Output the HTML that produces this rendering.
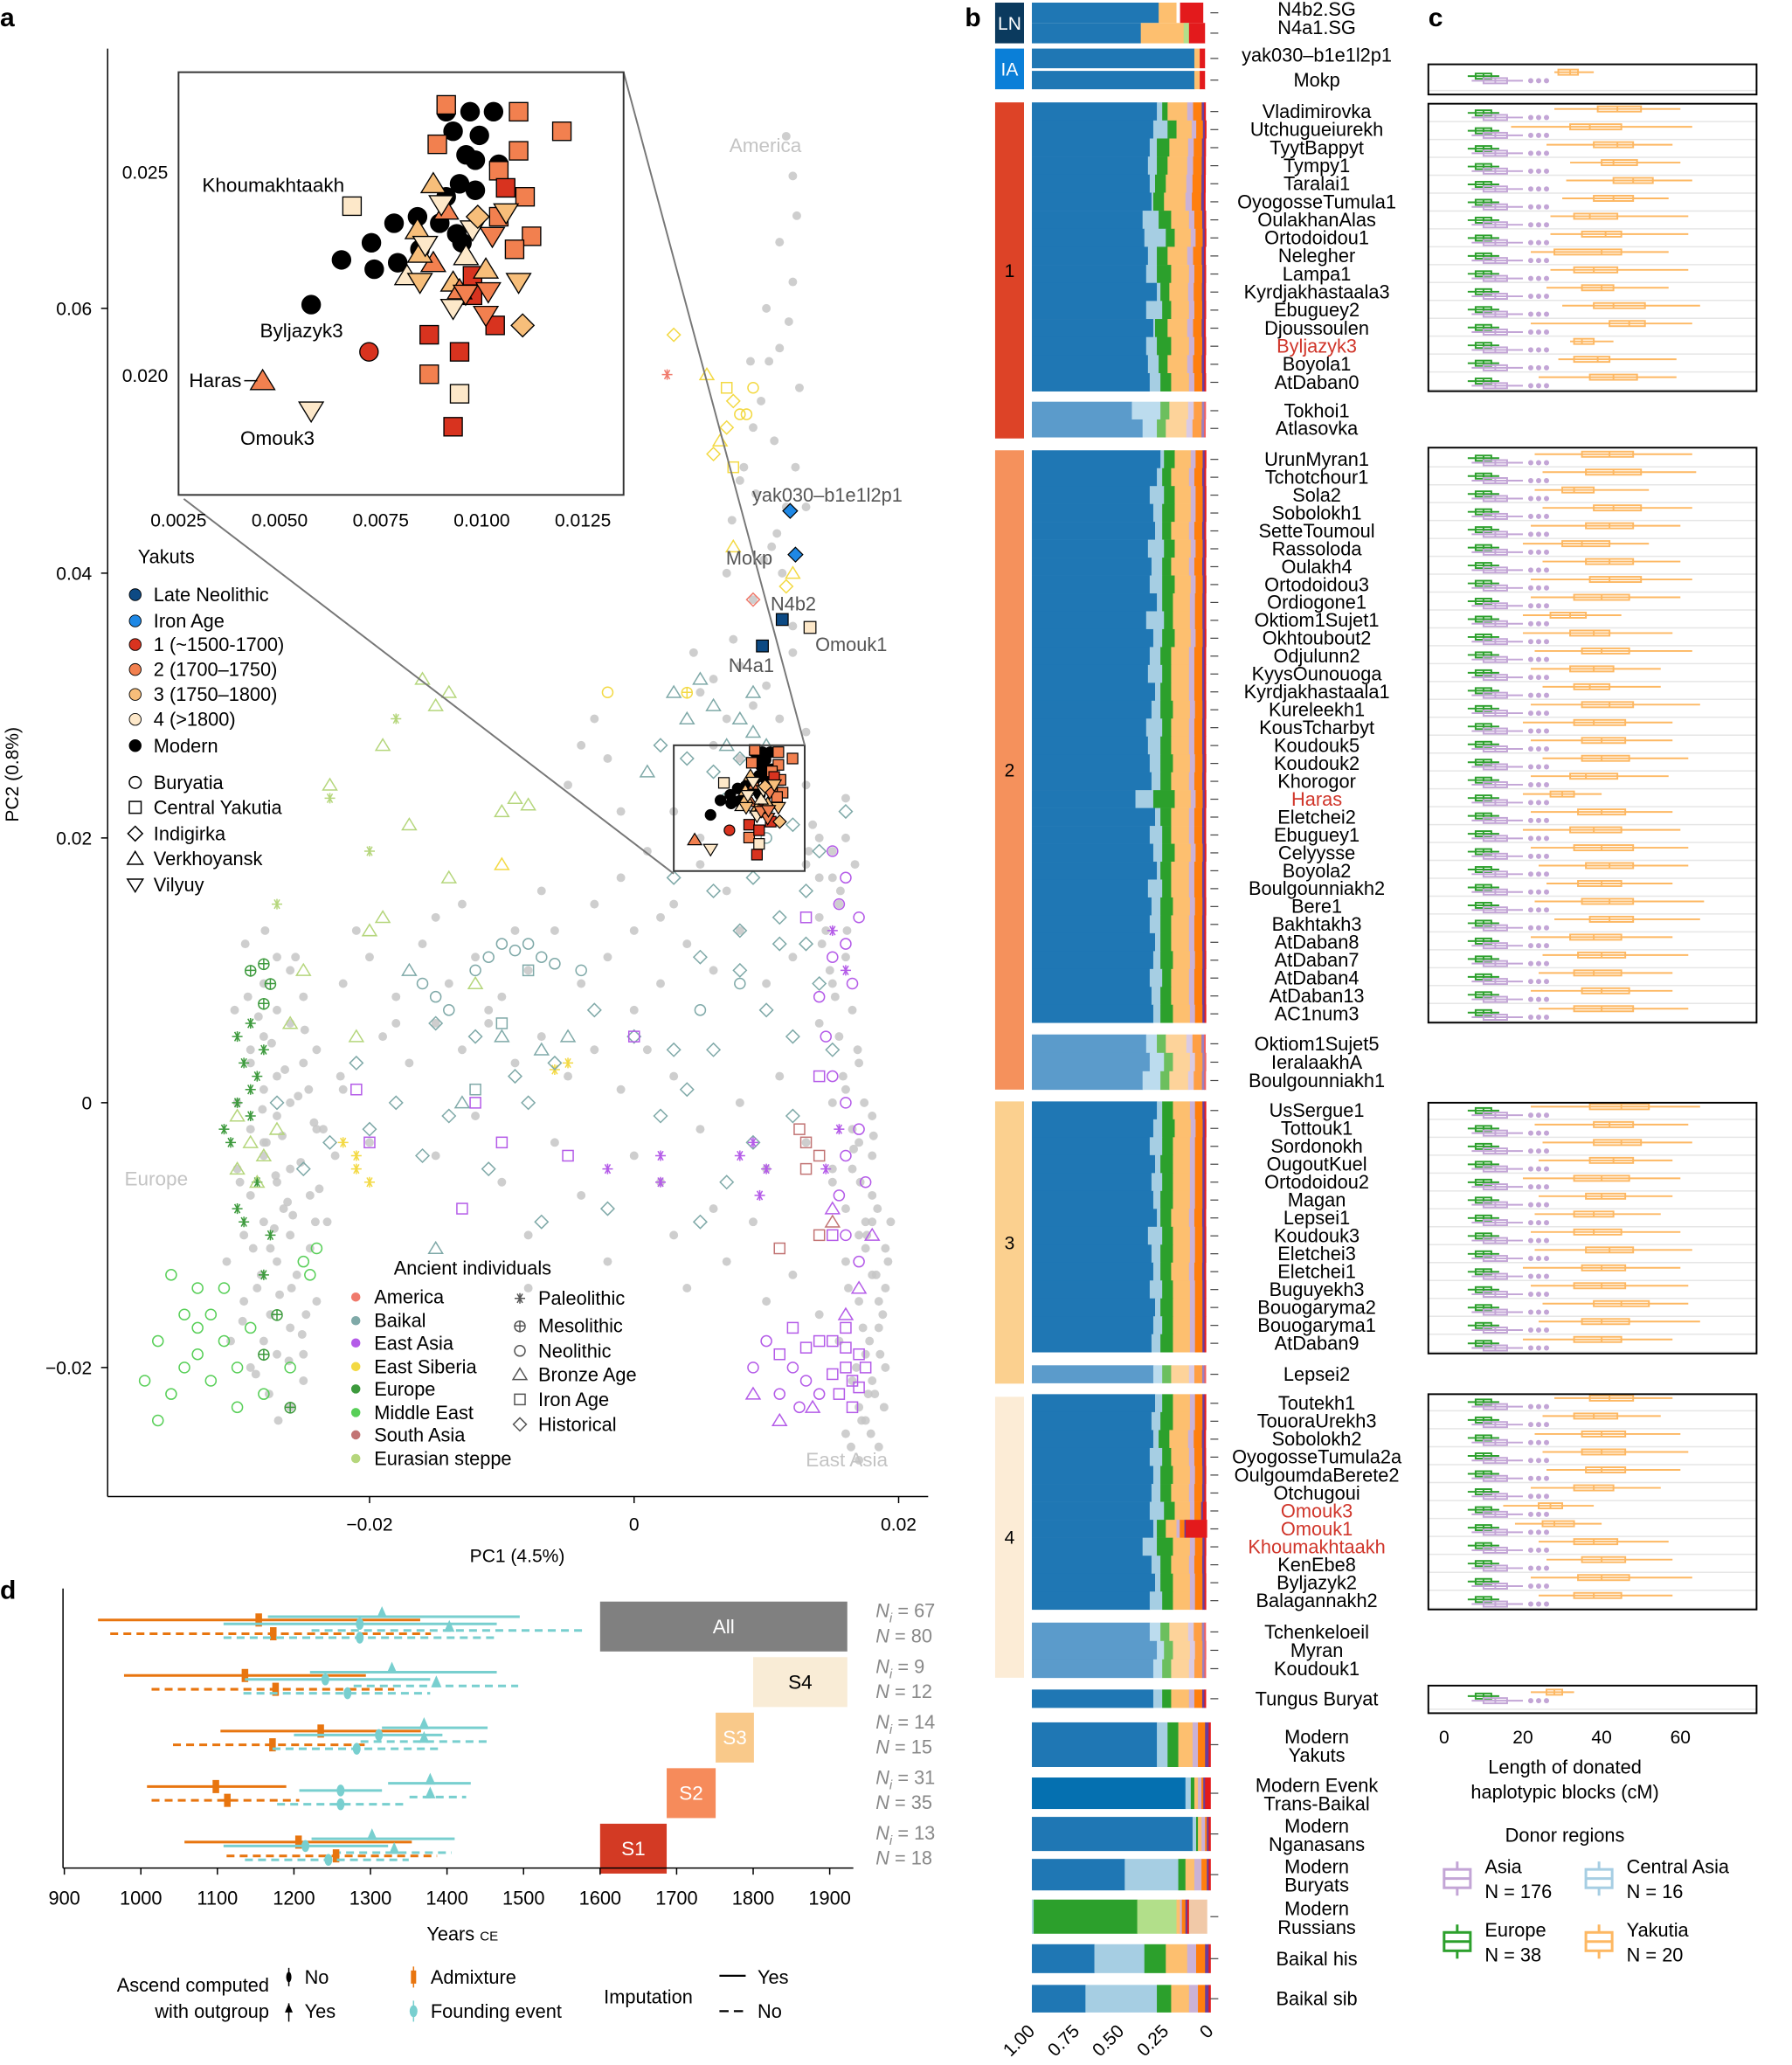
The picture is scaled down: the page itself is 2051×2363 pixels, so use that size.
<!DOCTYPE html>
<html><head><meta charset="utf-8">
<style>
body{margin:0;background:#fff}
svg{display:block;font-family:"Liberation Sans",sans-serif}
</style></head>
<body>
<svg id="fig" width="2051" height="2363" viewBox="0 0 1365 1573" preserveAspectRatio="none" xmlns="http://www.w3.org/2000/svg">
<rect x="0" y="0" width="1365" height="1573" fill="#fff"/>
<text x="0" y="20" font-size="20" font-weight="bold">a</text>
<text x="735" y="20" font-size="20" font-weight="bold">b</text>
<text x="1088" y="20" font-size="20" font-weight="bold">c</text>
<text x="0" y="1218" font-size="20" font-weight="bold">d</text>

<g id="pa">
  <defs><clipPath id="clipA"><rect x="82" y="37" width="625" height="1103"/></clipPath></defs>
  <g id="paPts" clip-path="url(#clipA)"></g>
  <line x1="82" y1="37" x2="82" y2="1140" stroke="#000" stroke-width="1"/>
  <line x1="82" y1="1140" x2="707" y2="1140" stroke="#000" stroke-width="1"/>
  <g id="paTicks" font-size="14" fill="#000"></g>
  <text x="394" y="1190" font-size="14" text-anchor="middle">PC1 (4.5%)</text>
  <text transform="translate(14,590) rotate(-90)" font-size="14" text-anchor="middle">PC2 (0.8%)</text>
  <text x="583" y="116" font-size="15" fill="#c4c4c4" text-anchor="middle">America</text>
  <text x="119" y="903" font-size="15" fill="#c4c4c4" text-anchor="middle">Europe</text>
  <text x="645" y="1117" font-size="15" fill="#c4c4c4" text-anchor="middle">East Asia</text>
  <g id="paInset"></g>
  <g id="paLegend" font-size="14.5"></g>
</g>
<g id="pb"></g>
<g id="pc"></g>
<g id="pd"></g>
</svg>
<script>
// ===== Panel a data (PC values x1e-3) =====
const grayPC1 = [-29,-28,-27.5,-28.5,-27,-26,-28,-29,-27,-26,-28,-29,-27,-26,-28,-27,-25,-29,-28,-26,-27,-25,-28,-26,-27,-28,-26.5,-27.5,-25.5,-26,-27,-25,-24,-24.5,-23.5,-24,-29.5,-30,-30,-29,-25,-26,-24.5,
16,17,18,17.5,18.5,17,18,19,17.5,18,16.5,17,18,16,17,15.5,16.5,15,16,14.5,15.5,14,15,13.5,16,18.5,17,19,18,16,15,14,19,17.5,16.5,15,
11.5,12,12.3,11,12,11.7,10.2,9.6,10.6,8.3,9.2,7.4,10.4,11.2,9,12,5,6,7,8,9,10,11,12,13,6,8,7.5,4.5,
9,11,14,13,7,5,3,1,2,4,6,8,10,12,14,15,16,13,12,3,-1,0,
-22,-20,-18,-16,-14,-12,-10,-8,-6,-4,-2,0,-19,-17,-15,-13,-11,-9,-7,-5,-3,-1,1,3,-21,-15,-9,-3,2,-24,-22,-20,-12,-6,0,5,8,10,6,2,-4,-10,-15,-13,-7,-1,-5,-4,-3,-2,
3,7,10,12,9,4,-2,-8,13,11,-18,-8,5,-11,14,15.5,16.5,17.5,18,18.5,16,17,15,
-30.5,-29.5,-28.2,-27.2,-26.2,-25.2,-24.2,-30.8,-29.8,-28.8,-27.8,-26.8,-25.8,-24.8,-23.8,-29.2,-28.4,-27.4,-26.4,-25.4,-30.2,-29.6,-28.6,-27.6,-26.6,-25.6,-24.6,-23.2,-22.6,-22.2,-29.4,-28.1,-27.1,-26.1,-25.1,-24.1,-27.9,-26.9,-25.9,-24.9,
17.2,18.2,16.8,17.8,18.8,19.2,16.2,17.6,18.4,17.1,16.6,18.1,17.4,15.8,16.9,18.6,17.9,16.4,15.2,14.8,16.1,17.3,18.3,19.4,15.6,16.7,17.7,18.9,14.2,13.2,
10,11,12.5,9,8,11.5,10.8,9.8,12.2,7,13,8.8];
const grayPC2 = [-20,-18,-16,-14,-12,-10,-9,-7,-6,-5,-4,-2,-1,0,1,2,3,4,5,6,7,8,9,10,11,-3,-8,-11,-13,-17,-19,-21,-15,-7,-2,4,-10,-5,0,3,-19,-23,-11,
-25,-23,-21,-19,-17,-15,-13,-11,-9,-7,-5,-3,-1,1,3,5,7,9,11,13,15,17,19,21,23,-26,-27,-20,-4,-8,0,6,-14,-11,-2,-5,
73,70,67,65,62,59,56,53,50,48,46,44,42,40,38,36,31,32,29,33,30,31.5,29,34,28,27,26,35,34,
22,24,20,18,16,18,15,19,14,12,10,13,9,11,14,17,20,24,26,22,17,13,
9,11,8,12,9,11,8,10,13,9,11,7,5,3,6,4,6,3,5,2,4,1,4,2,13,14,13,15,9,-2,1,-3,-1,-3,-4,-2,0,-5,-8,-6,-7,-6,-4,15,16,22,24,27,29,26,
-10,-12,-15,-13,-9,-14,-12,-10,-3,2,6,-14,20,7,-16,-18,-21,-24,-9,-15,-12,-10,-6,
-18,-15,-13,-9.5,-7.5,-4.5,-1.5,-12,-6,-11,-3,-14.5,-8.5,-16,-6.5,8,6.5,4.5,2.5,0.5,7,-16.5,-20.5,-22,-2.5,11,1,-9,-4,2,12,-0.5,-5.5,-19.5,-17.5,-9,13,-24,-14,5.5,
-24,-22,-20,-18,-16,-12,-14,-10,-8,-6,-3.5,-2.5,0,2,4,-19,-25,-26,8,10,13,-17,-13,-9,16,18,-22,-23,12,19,
60,57,54,51,47,45,43,41,48,40,45,56];
const ancPC1 = [-37,-36,-35,-34,-33,-33,-32,-32,-31,-30,-31,-33,-34,-29,-35,-36,-30,-28,-25,-24,-24.5,-26,
-30,-29,-29.5,-28.5,-30,-29,-30.5,-28,-29,-31,-28.5,-29.5,-27.5,-28,-30,
-29,-28,-27.5,-28,-27,-28,-26,
-29,-30,-28,-27,-30,-28.5,-16,-15,-14,-10,-9,-8,-20,-19,-14,-17,-12,-21,-26,-19,-23,-25,
-18,-20,-27,-23,
7,7.5,8,7,6.5,8.5,6,7.5,5.5,9,3,12,11.5,4,-5,-6,-21,-21,-20,-22,-10,-2,7.5,
2,4,6,8,10,12,14,3,6,9,11,13,5,8,10,12,6,4,2,9,7,5,3,0,-3,-6,-9,-12,-15,-18,-21,-23,-25,-27,-20,-14,-8,-2,12,14,15,16,13,11,8,-16,-11,-7,
-11,-10,-9,-8,-7,-6,-12,-15,-14,-16,-4,5,8,10,7,
3,5,6,8,9,4,7,9,10,-17,-13,-7,-5,-15,1,-10,
-10,-12,-8,
16,16.5,17,15.5,16,17,15,16.5,16,15,17.5,14,11,13,12,
15,16,15.5,17,16,15,16.5,14,14.5,15,16,17,16,17.5,15.5,16,17,12,10,11,13,9,14,12.5,
16,17,13.5,9,11,18,15,
15,16,15.5,14.5,9,10,9.5,2,2,-2,8,
-21,-12,-10,-5,0,-20,-13,13,14,15,
13,14,13,12.5,11,14,
2.5,9,15];
const ancPC2 = [-21,-18,-22,-20,-19,-17,-21,-16,-18,-20,-14,-14,-16,-17,-13,-24,-23,-22,-12,-11,-13,-20,
5,6,3,2,0,-1,-3,4,1,-2,-6,-9,-10,-13,-8,
10,10.5,9,7.5,-16,-19,-23,
-3,-5,-4,-2,-1,-6,32,30,31,22,23,22.5,13,14,17,21,9,5,6,27,24,10,
29,19,15,23,
54,53,52,51,50,52,49,48,55,54,58,40,39,31,3,2.5,-5,-4,-6,-3,18,31,42,
27,26,25,26,22,21,19,17,16,17,14,12,11,10,7,5,4,1,-1,-3,-6,-9,4,5,7,3,2,5,6,0,3,-3,-5,0,-2,-1,0,-8,-1,9,4,22,16,12,13,-4,-5,-9,
11,12,11.5,12,11,10.5,10,8,7,9,10,7,9,20,23,
31,32,30,29,31,29,27,28,27,10,0,4,5,-11,25,5,
6,1,10,
-20,-21,-19,-22,-18.5,-21.5,-20.5,-23,-17,-18,-20,-18,-19,-18.5,-17,
19,17,15,14,12,11,9,8,5,2,0,-2,-4,-6,-7,-10,-12,-20,-18,-22,-21,-20,-22,-23,
-16,-14,-23,-22,-24,-10,-8,
13,10,-2,-5,-3,-5,-7,-4,-6,-5,-4,
1,0,-3,-4,5,-3,-8,14,2,-10,
-3,-4,-5,-2,-11,-10,
55,38,-9];
const ancColor = [5,5,5,5,5,5,5,5,5,5,5,5,5,5,5,5,5,5,5,5,5,5,
4,4,4,4,4,4,4,4,4,4,4,4,4,4,4,
4,4,4,4,4,4,4,
7,7,7,7,7,7,7,7,7,7,7,7,7,7,7,7,7,7,7,7,7,7,
7,7,7,7,
3,3,3,3,3,3,3,3,3,3,3,3,3,3,3,3,3,3,3,3,3,3,3,
1,1,1,1,1,1,1,1,1,1,1,1,1,1,1,1,1,1,1,1,1,1,1,1,1,1,1,1,1,1,1,1,1,1,1,1,1,1,1,1,1,1,1,1,1,1,1,1,
1,1,1,1,1,1,1,1,1,1,1,1,1,1,1,
1,1,1,1,1,1,1,1,1,1,1,1,1,1,1,1,
1,1,1,
2,2,2,2,2,2,2,2,2,2,2,2,2,2,2,
2,2,2,2,2,2,2,2,2,2,2,2,2,2,2,2,2,2,2,2,2,2,2,2,
2,2,2,2,2,2,2,
2,2,2,2,2,2,2,2,2,2,2,
2,2,2,2,2,2,2,2,2,2,
6,6,6,6,6,6,
0,0,6];
const ancShape = [0,0,0,0,0,0,0,0,0,0,0,0,0,0,0,0,0,0,0,0,0,0,
5,5,5,5,5,5,5,5,5,5,5,5,5,5,5,
6,6,6,6,6,6,6,
3,3,3,3,3,3,3,3,3,3,3,3,3,3,3,3,3,3,3,3,3,3,
5,5,5,5,
1,2,0,2,3,0,2,1,3,0,2,3,2,6,5,5,5,5,5,5,3,0,3,
2,2,2,2,2,2,2,2,2,2,2,2,2,2,2,2,2,2,2,2,2,2,2,2,2,2,2,2,2,2,2,2,2,2,2,2,2,2,2,2,2,2,2,2,2,2,2,2,
0,0,0,0,0,0,0,0,0,0,0,0,0,0,0,
3,3,3,3,3,3,3,3,3,3,3,3,3,3,3,3,
1,1,1,
1,1,1,1,1,1,1,1,1,1,1,1,1,1,1,
0,0,0,0,0,0,0,0,0,0,0,0,0,0,0,0,0,0,0,0,0,0,0,0,
3,3,3,3,3,3,3,
5,5,5,5,5,5,5,5,5,5,5,
1,1,1,1,1,1,1,1,1,1,
1,1,1,1,1,1,
5,2,3];
const yakPC1 = [9.12,9.71,10.29,9.29,9.94,9.61,9.84,10.42,9.45,9.84,9.12,8.41,8.96,7.83,9.51,7.27,6.53,7.34,7.92,8.47,5.78,9.38,
9.12,10.91,11.98,10.91,10.42,11.07,10.42,11.23,10.81,8.90,9.77,8.70,9.29,10.33,8.70,9.45,9.77,9.45,10.59,
6.79,7.21,8.41,8.80,9.29,8.15,9.12,10.10,9.61,9.45,8.47,
4.58,8.80,9.77,8.47,10.26,9.29,10.10,10.91,9.0,9.6,10.6,8.6,
5.78,10.16,11.01,9.9,
12.2,11.8,11.2,9.7,13.3];
const yakPC2 = [26.48,26.48,26.48,26.0,25.9,25.42,25.29,25.19,24.71,24.55,24.39,23.90,23.74,23.74,23.26,23.26,22.84,22.61,22.77,23.10,21.74,23.48,
26.65,26.48,26.0,25.52,25.03,24.39,23.90,23.42,23.10,25.68,21.97,20.03,18.74,21.23,21.0,20.58,22.45,19.55,24.61,
24.16,20.58,23.58,22.77,22.29,22.45,24.06,22.61,22.94,22.1,23.0,
19.87,24.71,23.58,22.29,23.42,21.65,21.48,22.29,24.2,22.0,24.0,23.2,
19.13,22.06,21.23,23.9,
41.4,44.7,36.5,34.5,35.9];
const yakPeriod = [6,6,6,6,6,6,6,6,6,6,6,6,6,6,6,6,6,6,6,6,6,6,
3,3,3,3,3,3,3,3,3,3,2,3,2,2,2,2,2,5,2,
5,2,4,3,4,5,3,4,5,3,4,
3,4,5,4,3,5,3,4,5,3,4,5,
5,3,4,4,
1,1,0,0,5];
const yakShape = [0,0,0,0,0,0,0,0,0,0,0,0,0,0,0,0,0,0,0,0,0,0,
1,1,1,1,1,1,1,1,1,1,1,1,1,1,1,1,1,1,1,1,0,
3,3,3,3,3,3,3,3,3,3,3,
4,4,4,4,4,4,4,4,4,4,4,4,
2,2,2,2,
1,1,1,1,2];
const yakLabels = [["Khoumakhtaakh",154,146],["Byljazyk3",198,257],["Haras",144,295],["Omouk3",183,339]];
const mainLabels = [["yak030\u2013b1e1l2p1",573,382],["Mokp",553,430],["N4b2",587,465],["Omouk1",621,496],["N4a1",555,512]];
const pc1Ticks = [-20,0,20];
const pc1TickLabels = ["\u22120.02","0","0.02"];
const pc2Ticks = [60,40,20,0,-20];
const pc2TickLabels = ["0.06","0.04","0.02","0","\u22120.02"];
const insetXTicks = [2.5,5,7.5,10,12.5];
const insetXLabels = ["0.0025","0.0050","0.0075","0.0100","0.0125"];
const insetYTicks = [25,20];
const insetYLabels = ["0.025","0.020"];

const NS="http://www.w3.org/2000/svg";
function mk(tag, parent, attrs){const e=document.createElementNS(NS,tag);for(const k in attrs)e.setAttribute(k,attrs[k]);parent.appendChild(e);return e;}
const ancColors=["#f07a6c","#7fa9a8","#b45be8","#f3d943","#3d9a3d","#58cf58","#c27474","#b5d67c"];
const yakColors=["#0d4a84","#1e88e5","#d8331f","#f2804f","#f7be7a","#fde8c9","#000000"];
const xA=v=>483+v*10.075, yA=v=>840-v*10.085;
const xI=v=>136+(v-2.5)*30.8, yI=v=>131-(v-25)*31;

function marker(g,cx,cy,s,shape,stroke,fill,sw){
  let e;
  if(shape===0){e=mk('circle',g,{cx,cy,r:s/2,stroke,fill,'stroke-width':sw});}
  else if(shape===1){e=mk('rect',g,{x:cx-s/2,y:cy-s/2,width:s,height:s,stroke,fill,'stroke-width':sw});}
  else if(shape===2){const h=s*0.62;e=mk('polygon',g,{points:`${cx},${cy-h} ${cx+h},${cy} ${cx},${cy+h} ${cx-h},${cy}`,stroke,fill,'stroke-width':sw});}
  else if(shape===3){const h=s*0.6;e=mk('polygon',g,{points:`${cx},${cy-h} ${cx+h*1.1},${cy+h*0.8} ${cx-h*1.1},${cy+h*0.8}`,stroke,fill,'stroke-width':sw});}
  else if(shape===4){const h=s*0.6;e=mk('polygon',g,{points:`${cx},${cy+h} ${cx+h*1.1},${cy-h*0.8} ${cx-h*1.1},${cy-h*0.8}`,stroke,fill,'stroke-width':sw});}
  else if(shape===5){const h=s/2;e=mk('path',g,{d:`M${cx-h},${cy}H${cx+h}M${cx-h*0.5},${cy-h*0.87}L${cx+h*0.5},${cy+h*0.87}M${cx+h*0.5},${cy-h*0.87}L${cx-h*0.5},${cy+h*0.87}M${cx},${cy-h}V${cy+h}`,stroke,fill:'none','stroke-width':sw});}
  else {const h=s/2;e=mk('path',g,{d:`M${cx-h},${cy}H${cx+h}M${cx},${cy-h}V${cy+h}M${cx+h},${cy}A${h},${h} 0 1 1 ${cx+h-0.01},${cy-0.1}`,stroke,fill:'none','stroke-width':sw});}
  return e;
}

const paPts=document.getElementById('paPts');
for(let i=0;i<grayPC1.length;i++){
  const c=mk('circle',paPts,{cx:xA(grayPC1[i]),cy:yA(grayPC2[i]),r:3.3,fill:'#c6c6c6','fill-opacity':0.85});
  
  
}
for(let i=0;i<ancPC1.length;i++){
  const m=marker(paPts,xA(ancPC1[i]),yA(ancPC2[i]),8,ancShape[i],ancColors[ancColor[i]],'none',1);
  
  
}
for(let i=0;i<yakPC1.length;i++){
  const big=i>=yakPC1.length-5;
  const m=marker(paPts,xA(yakPC1[i]),yA(yakPC2[i]),big?9:8,yakShape[i],'#000',yakColors[yakPeriod[i]],0.8);
  
  
}
for(const L of mainLabels){
  const t=mk('text',paPts,{x:L[1],y:L[2],'font-size':14.5,fill:'#555'});t.textContent=L[0];
  
  
}
const paT=document.getElementById('paTicks');
pc1Ticks.forEach((v,i)=>{
  const l=mk('line',paT,{x1:xA(v),x2:xA(v),y1:1140,y2:1145,stroke:'#000'});
  
  
  const t=mk('text',paT,{x:xA(v),y:1166,'text-anchor':'middle'});t.textContent=pc1TickLabels[i];
  
  
});
pc2Ticks.forEach((v,i)=>{
  const l=mk('line',paT,{x1:77,x2:82,y1:yA(v),y2:yA(v),stroke:'#000'});
  
  
  const t=mk('text',paT,{x:70,y:yA(v)+5,'text-anchor':'end'});t.textContent=pc2TickLabels[i];
  
  
});
const ins=document.getElementById('paInset');
{
  const r=mk('rect',ins,{x:xA(3.0),y:yA(27.0),width:xA(12.9)-xA(3.0),height:yA(17.5)-yA(27.0),fill:'none',stroke:'#333','stroke-width':1.3});
  
  
  const l1=mk('line',ins,{x1:140,y1:380,x2:xA(3.0),y2:yA(17.5)+2,stroke:'#777','stroke-width':1.3});
  
  
  const l2=mk('line',ins,{x1:475,y1:55,x2:xA(12.9),y2:yA(27.0),stroke:'#777','stroke-width':1.3});
  
  
  const b=mk('rect',ins,{x:136,y:55,width:339,height:322,fill:'#fff',stroke:'#333','stroke-width':1.3});
  
  
  insetXTicks.forEach((v,i)=>{
    const t=mk('text',ins,{x:xI(v),y:401,'font-size':14,'text-anchor':'middle'});t.textContent=insetXLabels[i];
    
    
  });
  insetYTicks.forEach((v,i)=>{
    const t=mk('text',ins,{x:128,y:yI(v)+5,'font-size':14,'text-anchor':'end'});t.textContent=insetYLabels[i];
    
    
  });
  const g=mk('g',ins,{});
  
  
  for(let i=0;i<yakPC1.length-5;i++){
    const m=marker(g,xI(yakPC1[i]),yI(yakPC2[i]),14,yakShape[i],'#000',yakColors[yakPeriod[i]],0.9);
    
    
  }
  for(const L of yakLabels){
    const t=mk('text',ins,{x:L[1],y:L[2],'font-size':15});t.textContent=L[0];
    
    
  }
  const hl=mk('line',ins,{x1:186,y1:290,x2:196,y2:290,stroke:'#000'});
  
  
}
const leg=document.getElementById('paLegend');
function ltxt(x,y,s,name,anchor){const t=mk('text',leg,{x,y,'text-anchor':anchor||'start'});t.textContent=s;return t;}
ltxt(105,429,'Yakuts','yakut-legend-title');
const yakLeg=["Late Neolithic","Iron Age","1 (~1500-1700)","2 (1700\u20131750)","3 (1750\u20131800)","4 (>1800)","Modern"];
const yakLegY=[453,473,491,510,529,548,568];
yakLeg.forEach((s,i)=>{
  const c=mk('circle',leg,{cx:103,cy:yakLegY[i],r:4.5,fill:yakColors[i],stroke:'#000','stroke-width':0.6});
  
  
  ltxt(117,yakLegY[i]+5,s,'yakut-legend-entry');
});
const regLeg=["Buryatia","Central Yakutia","Indigirka","Verkhoyansk","Vilyuy"];
const regLegY=[596,615,635,654,674];
const regShape=[0,1,2,3,4];
regLeg.forEach((s,i)=>{
  const m=marker(leg,103,regLegY[i],9,regShape[i],'#000','none',1);
  
  
  ltxt(117,regLegY[i]+5,s,'region-legend-entry');
});
ltxt(300,971,'Ancient individuals','ancient-legend-title');
const ancLeg=["America","Baikal","East Asia","East Siberia","Europe","Middle East","South Asia","Eurasian steppe"];
const ancLegY=[988,1006,1023,1041,1058,1076,1093,1111];
ancLeg.forEach((s,i)=>{
  const c=mk('circle',leg,{cx:271,cy:ancLegY[i],r:3.5,fill:ancColors[i]});
  
  
  ltxt(285,ancLegY[i]+5,s,'ancient-region-entry');
});
const perLeg=["Paleolithic","Mesolithic","Neolithic","Bronze Age","Iron Age","Historical"];
const perLegY=[989,1010,1029,1047,1066,1085];
const perShape=[5,6,0,3,1,2];
perLeg.forEach((s,i)=>{
  const m=marker(leg,396,perLegY[i],8,perShape[i],'#555','none',1);
  
  
  ltxt(410,perLegY[i]+5,s,'period-legend-entry');
});

// ===== Panel b data =====
const g1Names=["Vladimirovka","Utchugueiurekh","TyytBappyt","Tympy1","Taralai1","OyogosseTumula1","OulakhanAlas","Ortodoidou1","Nelegher","Lampa1","Kyrdjakhastaala3","Ebuguey2","Djoussoulen","Byljazyk3","Boyola1","AtDaban0"];
const g1Blue=[0.70,0.68,0.66,0.65,0.66,0.67,0.62,0.63,0.65,0.64,0.70,0.64,0.68,0.64,0.65,0.66];
const g1LtBlue=[0.03,0.08,0.04,0.05,0.03,0.01,0.09,0.12,0.05,0.06,0.02,0.09,0.01,0.06,0.06,0.06];
const g1Green=[0.03,0.05,0.07,0.06,0.06,0.06,0.07,0.05,0.06,0.08,0.05,0.05,0.07,0.08,0.05,0.06];
const g2Names=["UrunMyran1","Tchotchour1","Sola2","Sobolokh1","SetteToumoul","Rassoloda","Oulakh4","Ortodoidou3","Ordiogone1","Oktiom1Sujet1","Okhtoubout2","Odjulunn2","KyysOunouoga","Kyrdjakhastaala1","Kureleekh1","KousTcharbyt","Koudouk5","Koudouk2","Khorogor","Haras","Eletchei2","Ebuguey1","Celyysse","Boyola2","Boulgounniakh2","Bere1","Bakhtakh3","AtDaban8","AtDaban7","AtDaban4","AtDaban13","AC1num3"];
const g2Blue=[0.72,0.70,0.66,0.68,0.69,0.65,0.67,0.66,0.70,0.64,0.68,0.66,0.65,0.69,0.67,0.64,0.65,0.66,0.67,0.58,0.69,0.66,0.68,0.70,0.65,0.67,0.66,0.69,0.68,0.66,0.67,0.68];
const g2LtBlue=[0.02,0.03,0.08,0.05,0.04,0.09,0.06,0.07,0.03,0.10,0.05,0.06,0.08,0.03,0.05,0.09,0.07,0.06,0.05,0.10,0.03,0.07,0.05,0.02,0.08,0.05,0.06,0.03,0.04,0.07,0.05,0.04];
const g2Green=[0.06,0.05,0.06,0.07,0.05,0.06,0.05,0.07,0.06,0.05,0.07,0.06,0.05,0.06,0.07,0.05,0.06,0.07,0.06,0.12,0.06,0.05,0.07,0.06,0.05,0.07,0.06,0.06,0.07,0.05,0.06,0.07];
const g3Names=["UsSergue1","Tottouk1","Sordonokh","OugoutKuel","Ortodoidou2","Magan","Lepsei1","Koudouk3","Eletchei3","Eletchei1","Buguyekh3","Bouogaryma2","Bouogaryma1","AtDaban9"];
const g3Blue=[0.70,0.68,0.66,0.69,0.67,0.68,0.70,0.65,0.67,0.68,0.66,0.69,0.68,0.67];
const g3LtBlue=[0.03,0.05,0.07,0.03,0.06,0.04,0.02,0.08,0.05,0.04,0.07,0.03,0.05,0.05];
const g3Green=[0.06,0.07,0.06,0.07,0.06,0.07,0.06,0.06,0.07,0.06,0.06,0.07,0.06,0.07];
const g4Names=["Toutekh1","TouoraUrekh3","Sobolokh2","OyogosseTumula2a","OulgoumdaBerete2","Otchugoui","Omouk3","Omouk1","Khoumakhtaakh","KenEbe8","Byljazyk2","Balagannakh2"];
const g4Blue=[0.69,0.67,0.68,0.66,0.68,0.67,0.66,0.68,0.62,0.67,0.69,0.66];
const g4LtBlue=[0.04,0.05,0.03,0.07,0.04,0.05,0.08,0.02,0.08,0.05,0.03,0.07];
const g4Green=[0.06,0.07,0.06,0.05,0.07,0.06,0.06,0.05,0.09,0.06,0.07,0.06];
const g4Red=[0.01,0.01,0.01,0.01,0.01,0.01,0.02,0.12,0.01,0.01,0.01,0.01];
const redNames=["Byljazyk3","Haras","Omouk3","Omouk1","Khoumakhtaakh"];
const compColors=["#1f77b4","#a6cee3","#2ca02c","#fdbf6f","#cab2d6","#ff7f0e","#6a3d9a","#e31a1c"];
const pb=document.getElementById('pb');
const BX0=786, BW=136;
function segBar(parent,y,h,fracs,colors,opacity,name){
  const g=mk('g',parent,{opacity:opacity});
  
  
  let x=BX0;
  fracs.forEach((f,i)=>{
    const r=mk('rect',g,{x:x,y:y,width:f*BW+0.3,height:h,fill:colors[i]});
    
    
    x+=f*BW;
  });
  const tk=mk('line',g,{x1:BX0+BW,x2:BX0+BW+6,y1:y+h/2,y2:y+h/2,stroke:'#444','stroke-width':0.8});
  
  
  return g;
}
function stdFracs(b,lb,gr,rd){
  const rem=1-b-lb-gr-rd-0.01;
  return [b,lb,gr,rem*0.5,rem*0.15,rem*0.22,rem*0.06,rd,0.01];
}
const stdColors=compColors.concat(["#ffffff"]);
function label(x,y,s,red,name){
  const t=mk('text',pb,{x:x,y:y,'font-size':14.5,'text-anchor':'middle',fill:red?'#d0352a':'#000'});
  t.textContent=s;
  
  
}
function groupBox(y1,y2,fill,txt,tcol,name){
  const r=mk('rect',pb,{x:758,y:y1,width:22,height:y2-y1,fill:fill});
  
  
  const t=mk('text',pb,{x:769,y:(y1+y2)/2+5,'font-size':14,'text-anchor':'middle',fill:tcol});
  t.textContent=txt;
  
  
}
groupBox(2,33,'#0b3a5e','LN','#fff','late-neolithic-group');
groupBox(37,68,'#0a7fd8','IA','#fff','iron-age-group');
groupBox(78,334,'#dd4327','1','#000','period-1-group');
groupBox(343,830,'#f5915c','2','#000','period-2-group');
groupBox(839,1054,'#fbd08f','3','#000','period-3-group');
groupBox(1064,1278,'#fcecd6','4','#000','period-4-group');
segBar(pb,2,15.5,[0.71,0.10,0.02,0.13,0.04],["#1f77b4","#fdbf6f","#ffffff","#e31a1c","#ffffff"],1,'n4b2-bar');
segBar(pb,17.5,15.5,[0.61,0.24,0.03,0.09,0.03],["#1f77b4","#fdbf6f","#b2df8a","#e31a1c","#ffffff"],1,'n4a1-bar');
segBar(pb,37,15,[0.91,0.03,0.03,0.03],["#1f77b4","#fdbf6f","#e31a1c","#ffffff"],1,'yak030-bar');
segBar(pb,54,14,[0.91,0.03,0.03,0.03],["#1f77b4","#fdbf6f","#e31a1c","#ffffff"],1,'mokp-bar');
label(1003,12,'N4b2.SG');label(1003,26,'N4a1.SG');label(1003,47,'yak030\u2013b1e1l2p1');label(1003,66,'Mokp');
const groupsB=[
 {names:g1Names,blue:g1Blue,lt:g1LtBlue,gr:g1Green,red:null,y0:78,h:13.75},
 {names:g2Names,blue:g2Blue,lt:g2LtBlue,gr:g2Green,red:null,y0:343,h:13.625},
 {names:g3Names,blue:g3Blue,lt:g3LtBlue,gr:g3Green,red:null,y0:839,h:13.64},
 {names:g4Names,blue:g4Blue,lt:g4LtBlue,gr:g4Green,red:g4Red,y0:1062,h:13.67}];
groupsB.forEach(G=>{
  G.names.forEach((n,i)=>{
    const y=G.y0+i*G.h;
    segBar(pb,y,G.h+0.2,stdFracs(G.blue[i],G.lt[i],G.gr[i],G.red?G.red[i]:0.01),stdColors,1,'ancestry-bar');
    label(1003,y+G.h/2+5,n,redNames.includes(n));
  });
});
const lightColors=["#5b9bcb","#bcdcee","#6cbf5e","#fdd39a","#dacbe4","#ff9f45","#9b7fbd","#ef6061","#ffffff"];
function lightBlock(y0,h,names,blues,lts){
  names.forEach((n,i)=>{
    const y=y0+i*h;
    segBar(pb,y,h+0.2,stdFracs(blues[i],lts[i],0.05,0.01),lightColors,1,'low-coverage-bar');
    label(1003,y+h/2+5,n,false);
  });
}
const lowA=["Tokhoi1","Atlasovka"], lowABlue=[0.56,0.62], lowALt=[0.16,0.08];
const lowB=["Oktiom1Sujet5","IeralaakhA","Boulgounniakh1"], lowBBlue=[0.64,0.66,0.62], lowBLt=[0.06,0.08,0.10];
const lowC=["Lepsei2"], lowCBlue=[0.68], lowCLt=[0.05];
const lowD=["Tchenkeloeil","Myran","Koudouk1"], lowDBlue=[0.66,0.70,0.68], lowDLt=[0.06,0.04,0.05];
lightBlock(306,13.5,lowA,lowABlue,lowALt);
lightBlock(788,14,lowB,lowBBlue,lowBLt);
lightBlock(1040,13.5,lowC,lowCBlue,lowCLt);
lightBlock(1236,14,lowD,lowDBlue,lowDLt);
segBar(pb,1287,14,stdFracs(0.68,0.05,0.05,0.01),stdColors,1,'tungus-buryat-bar');
label(1003,1299,'Tungus Buryat');
const modNames=[["Modern","Yakuts"],["Modern Evenk","Trans-Baikal"],["Modern","Nganasans"],["Modern","Buryats"],["Modern","Russians"],["Baikal his"],["Baikal sib"]];
const modY=[1312,1354,1384,1416,1447,1481,1512];
const modH=[34,24,26,24,26,22,21];
const modFracs=[[0.70,0.06,0.06,0.08,0.03,0.04,0.02,0.01],[0.86,0.03,0.02,0.02,0.02,0.01,0.01,0.03],[0.90,0.02,0.01,0.02,0.02,0.01,0.01,0.01],[0.52,0.30,0.04,0.05,0.04,0.03,0.01,0.01],[0,0.01,0.58,0.02,0.01,0.02,0.01,0.01],[0.35,0.28,0.12,0.12,0.05,0.05,0.02,0.01],[0.30,0.40,0.08,0.10,0.05,0.04,0.02,0.01]];
const modColorsList=[stdColors,["#0570b0","#a6cee3","#2ca02c","#fdbf6f","#cab2d6","#ff7f0e","#6a3d9a","#e31a1c"],stdColors,stdColors,["#1f77b4","#a6cee3","#2ca02c","#fdbf6f","#cab2d6","#ff7f0e","#6a3d9a","#e31a1c"],stdColors,stdColors];
modNames.forEach((nm,i)=>{
  const f=modFracs[i].slice();
  let cols=modColorsList[i];
  if(i===4){f.splice(3,0,0.22);f.push(0.10);cols=["#1f77b4","#a6cee3","#2ca02c","#b2df8a","#fdbf6f","#cab2d6","#ff7f0e","#6a3d9a","#e31a1c","#f1c9a8"];}
  segBar(pb,modY[i],modH[i],f,cols,1,'modern-population-bar');
  if(nm.length===2){label(1003,modY[i]+modH[i]/2-1,nm[0],false,'population-label');label(1003,modY[i]+modH[i]/2+13,nm[1],false,'population-label');}
  else label(1003,modY[i]+modH[i]/2+5,nm[0],false,'population-label');
});
const fracTicks=["1.00","0.75","0.50","0.25","0"];
const fracVals=[1,0.75,0.5,0.25,0];
fracVals.forEach((v,i)=>{
  const x=BX0+(1-v)*BW;
  const t=mk('text',pb,{transform:`translate(${x+3},1548) rotate(-45)`,'font-size':14,'text-anchor':'end'});
  t.textContent=fracTicks[i];
  
  
});

// ===== Panel c data (cM) =====
const cTop=[[28,29,32,34,38]];
const cG1=[[28,39,44,50,60],[17,32,37,45,63],[26,38,44,48,58],[32,40,43,49,60],[31,43,48,53,63],[30,38,43,48,57],[27,33,37,44,62],[27,35,41,45,62],[22,28,40,45,57],[27,33,38,44,62],[26,35,40,43,57],[30,38,43,51,65],[22,42,47,51,63],[32,33,35,38,43],[29,33,39,42,59],[24,37,43,49,59]];
const cG2=[[23,35,42,48,63],[25,36,43,50,64],[23,30,33,38,52],[25,38,43,50,63],[22,36,42,48,60],[20,30,35,42,52],[25,36,42,48,60],[22,37,42,50,63],[22,33,40,47,60],[20,27,32,36,45],[20,32,38,42,58],[23,35,40,47,63],[22,32,38,43,55],[25,33,37,42,55],[22,35,42,48,65],[20,33,38,46,58],[22,35,40,46,58],[25,35,40,47,62],[22,32,36,44,57],[20,27,30,33,40],[22,34,40,46,58],[20,32,38,45,60],[22,33,40,48,62],[24,36,42,48,62],[26,34,40,45,58],[23,35,42,48,66],[28,37,42,48,65],[22,32,38,45,58],[25,34,40,46,62],[24,33,38,45,58],[22,35,40,47,58],[24,33,40,48,62]];
const cG3=[[22,37,45,52,65],[23,38,42,48,62],[25,38,45,50,63],[24,37,43,48,58],[20,33,40,47,60],[24,36,40,46,58],[23,33,38,43,55],[22,33,38,45,60],[23,36,42,48,63],[20,35,40,46,60],[22,33,40,46,62],[25,38,45,52,62],[24,35,40,47,65],[20,33,40,45,58]];
const cG4=[[28,37,42,48,58],[25,33,38,44,55],[23,35,40,46,60],[25,35,40,46,62],[26,36,40,46,60],[22,33,38,43,55],[15,24,27,30,38],[18,25,28,33,40],[24,33,38,44,57],[26,35,40,46,58],[22,34,40,47,63],[24,33,38,45,58]];
const cTung=[[22,26,28,30,33]];
const greenStats=[6,8,10,12,14];
const purpleStats=[7,10,13,16,20];
const cmTicks=[0,20,40,60];
const pcg=document.getElementById('pc');
const xC=v=>1100+v*3;
function box(g,st,y,h,col,name){
  const wl=mk('line',g,{x1:xC(st[0]),x2:xC(st[4]),y1:y,y2:y,stroke:col,'stroke-width':1.3});
  
  
  const r=mk('rect',g,{x:xC(st[1]),y:y-h/2,width:xC(st[3])-xC(st[1]),height:h,fill:'none',stroke:col,'stroke-width':1.3});
  
  
  const m=mk('line',g,{x1:xC(st[2]),x2:xC(st[2]),y1:y-h/2,y2:y+h/2,stroke:col,'stroke-width':1.3});
  
  
}
function cFrame(y1,y2,rows,y0,h){
  const g=mk('g',pcg,{});
  
  
  rows.forEach((st,i)=>{
    const y=y0+i*h;
    const sep=mk('line',g,{x1:1088,x2:1338,y1:y+h-1,y2:y+h-1,stroke:'#e6e6e6','stroke-width':1});
    
    
    box(g,st,y+3,4,'#fdb863','yakutia');
    box(g,greenStats,y+6,4,'#2ca02c','europe');
    box(g,purpleStats,y+9.5,4,'#c3a5d6','asia');
    [22,24,26].forEach(v=>{
      const d=mk('circle',g,{cx:xC(v),cy:y+9.5,r:2,fill:'#c3a5d6'});
      
      
    });
  });
  const fr=mk('rect',pcg,{x:1088,y:y1,width:250,height:y2-y1,fill:'none',stroke:'#000','stroke-width':1.3});
  
  
}
cFrame(49,72,cTop,52,18);
cFrame(79,298,cG1,80,13.62);
cFrame(341,779,cG2,343,13.625);
cFrame(840,1031,cG3,840,13.64);
cFrame(1062,1226,cG4,1062,13.67);
cFrame(1284,1305,cTung,1286,17);
cmTicks.forEach(v=>{
  const t=mk('text',pcg,{x:xC(v),y:1328,'font-size':14,'text-anchor':'middle'});
  t.textContent=String(v);
  
  
});
function ctext(x,y,s,name,anchor){const t=mk('text',pcg,{x:x,y:y,'font-size':14.5,'text-anchor':anchor||'start'});t.textContent=s;}
ctext(1192,1351,'Length of donated','c-axis-title','middle');
ctext(1192,1370,'haplotypic blocks (cM)','c-axis-title','middle');
ctext(1192,1403,'Donor regions','donor-legend-title','middle');
const donorNames=["Asia","Central Asia","Europe","Yakutia"];
const donorN=["N = 176","N = 16","N = 38","N = 20"];
const donorCol=["#c3a5d6","#a6cee3","#2ca02c","#fdb863"];
const donorX=[1100,1208,1100,1208];
const donorY=[1421,1421,1469,1469];
donorNames.forEach((s,i)=>{
  const x=donorX[i],y=donorY[i];
  const ic=mk('g',pcg,{stroke:donorCol[i],'stroke-width':2,fill:'none'});
  
  
  mk('rect',ic,{x:x,y:y+3,width:20,height:14});
  mk('line',ic,{x1:x,x2:x+20,y1:y+10,y2:y+10});
  mk('line',ic,{x1:x+10,x2:x+10,y1:y-3,y2:y+3});
  mk('line',ic,{x1:x+10,x2:x+10,y1:y+17,y2:y+23});
  ctext(x+31,y+6,s,'donor-legend-entry');
  ctext(x+31,y+25,donorN[i],'donor-legend-count');
});

// ===== Panel d data (years CE) =====
const periodsD=["All","S4","S3","S2","S1"];
const periodStart=[1600,1800,1751,1687,1600];
const periodEnd=[1923,1923,1801,1751,1687];
const nInd=[67,9,14,31,13];
const nTot=[80,12,15,35,18];
const admixSolid=[[944,1154,1365],[978,1136,1294],[1104,1235,1366],[1008,1098,1190],[1057,1206,1354]];
const foundTriSolid=[[1166,1315,1495],[1221,1328,1465],[1315,1370,1453],[1323,1378,1431],[1223,1302,1410]];
const foundCircSolid=[[1108,1286,1465],[1136,1241,1378],[1200,1311,1394],[1207,1261,1315],[1108,1215,1323]];
const admixDash=[[960,1173,1379],[1014,1176,1331],[1042,1172,1298],[1014,1113,1207],[1112,1255,1387]];
const foundTriDash=[[1223,1403,1579],[1278,1386,1493],[1287,1370,1453],[1351,1378,1425],[1251,1331,1406]];
const foundCircDash=[[1108,1286,1463],[1134,1270,1378],[1172,1282,1394],[1178,1261,1343],[1136,1245,1350]];
const yearTicks=[900,1000,1100,1200,1300,1400,1500,1600,1700,1800,1900];
const pd=document.getElementById('pd');
const xD=v=>49+(v-900)*0.583;
const periodFill=["#808080","#f9ecd6","#f9c98a","#f68b5b","#d33a24"];
const periodText=["#fff","#000","#fff","#fff","#fff"];
const ORG="#e8750f", TEAL="#78cfcf";
function dline(y,st,col,dash,mType,name){
  const l=mk('line',pd,{x1:xD(st[0]),x2:xD(st[2]),y1:y,y2:y,stroke:col,'stroke-width':2});
  if(dash) l.setAttribute('stroke-dasharray','6,4');
  
  
  const x=xD(st[1]);
  let m;
  if(mType==='sq') m=mk('rect',pd,{x:x-2.5,y:y-5,width:5,height:10,fill:col});
  else if(mType==='tri') m=mk('polygon',pd,{points:`${x},${y-8} ${x+4},${y+1} ${x-4},${y+1}`,fill:col});
  else m=mk('ellipse',pd,{cx:x,cy:y,rx:3,ry:4.5,fill:col});
  
  
}
periodsD.forEach((p,k)=>{
  const y0=1220+k*42.3;
  const r=mk('rect',pd,{x:xD(periodStart[k]),y:y0,width:xD(periodEnd[k])-xD(periodStart[k]),height:38,fill:periodFill[k]});
  
  
  const t=mk('text',pd,{x:(xD(periodStart[k])+xD(periodEnd[k]))/2,y:y0+24,'font-size':15,'text-anchor':'middle',fill:periodText[k]});
  t.textContent=p;
  
  
  dline(y0+11.5,foundTriSolid[k],TEAL,false,'tri','founding-outgroup-imputed');
  dline(y0+14,admixSolid[k],ORG,false,'sq','admixture-imputed');
  dline(y0+17,foundCircSolid[k],TEAL,false,'circ','founding-imputed');
  dline(y0+22,foundTriDash[k],TEAL,true,'tri','founding-outgroup-nonimputed');
  dline(y0+24.5,admixDash[k],ORG,true,'sq','admixture-nonimputed');
  dline(y0+27.5,foundCircDash[k],TEAL,true,'circ','founding-nonimputed');
  const n1=mk('text',pd,{x:667,y:y0+12,'font-size':14.5,fill:'#888','font-style':'italic'});
  n1.innerHTML='N<tspan font-size="10" dy="4">i</tspan><tspan dy="-4" font-style="normal"> = '+nInd[k]+'</tspan>';
  
  
  const n2=mk('text',pd,{x:667,y:y0+31,'font-size':14.5,fill:'#888','font-style':'italic'});
  n2.innerHTML='N<tspan font-style="normal"> = '+nTot[k]+'</tspan>';
  
  
});
{
  const ay=mk('line',pd,{x1:48,x2:48,y1:1210,y2:1423,stroke:'#000','stroke-width':1});
  
  
  const ax=mk('line',pd,{x1:48,x2:650,y1:1423,y2:1423,stroke:'#000','stroke-width':1});
  
  
}
yearTicks.forEach(v=>{
  const l=mk('line',pd,{x1:xD(v),x2:xD(v),y1:1423,y2:1428,stroke:'#000'});
  
  
  const t=mk('text',pd,{x:xD(v),y:1451,'font-size':14.5,'text-anchor':'middle'});
  t.textContent=String(v);
  
  
});
function dtext(x,y,s,name,anchor,fs){const t=mk('text',pd,{x:x,y:y,'font-size':fs||14.5,'text-anchor':anchor||'start'});t.textContent=s;return t;}
{
  const t=dtext(325,1478,'Years ','d-x-axis-title','start');
  const sp=document.createElementNS(NS,'tspan');sp.setAttribute('font-size','10');sp.textContent='CE';t.appendChild(sp);
}
dtext(205,1517,'Ascend computed','ascend-legend-title','end');
dtext(205,1537,'with outgroup','ascend-legend-title','end');
{
  const a=mk('ellipse',pd,{cx:220,cy:1506,rx:2,ry:4,fill:'#000'});
  const a2=mk('line',pd,{x1:220,x2:220,y1:1499,y2:1513,stroke:'#000'});
  const b=mk('polygon',pd,{points:'220,1526 223,1533 217,1533',fill:'#000'});
  const b2=mk('line',pd,{x1:220,x2:220,y1:1526,y2:1540,stroke:'#000'});
  const c=mk('rect',pd,{x:313,y:1501,width:4,height:10,fill:ORG});
  const c2=mk('line',pd,{x1:315,x2:315,y1:1498,y2:1514,stroke:ORG});
  const d=mk('ellipse',pd,{cx:315,cy:1532,rx:3,ry:4.5,fill:TEAL});
  const d2=mk('line',pd,{x1:315,x2:315,y1:1524,y2:1540,stroke:TEAL});
  const e=mk('line',pd,{x1:548,x2:568,y1:1505,y2:1505,stroke:'#000','stroke-width':1.5});
  const f=mk('line',pd,{x1:548,x2:568,y1:1532,y2:1532,stroke:'#000','stroke-width':1.5,'stroke-dasharray':'7,4'});
}
dtext(232,1511,'No','legend-no-outgroup');
dtext(232,1537,'Yes','legend-outgroup');
dtext(328,1511,'Admixture','legend-admixture');
dtext(328,1537,'Founding event','legend-founding-event');
dtext(460,1526,'Imputation','imputation-legend-title');
dtext(577,1511,'Yes','legend-imputed');
dtext(577,1537,'No','legend-nonimputed');
</script>
</body></html>
